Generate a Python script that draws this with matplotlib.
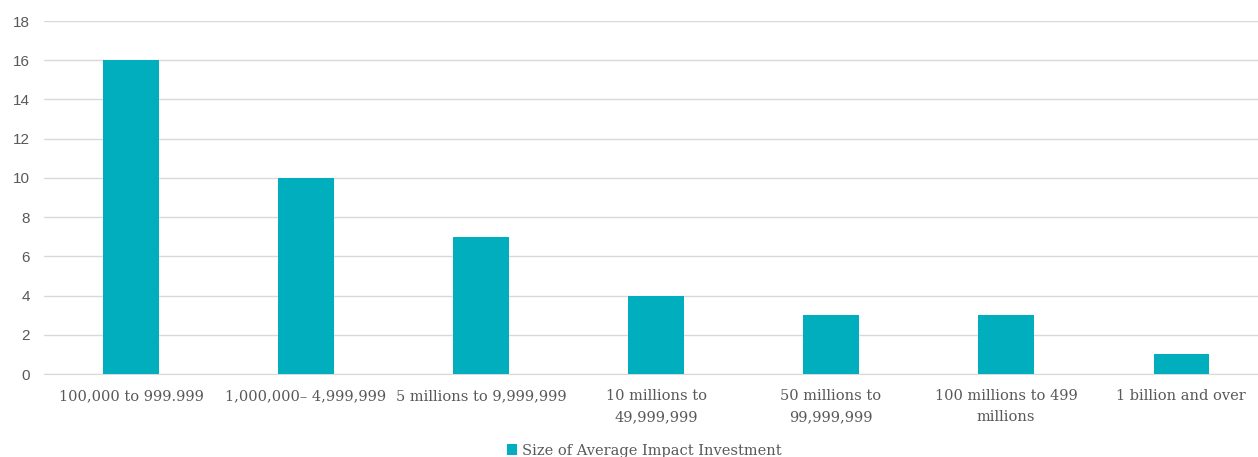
import matplotlib
matplotlib.use("Agg")
import matplotlib.pyplot as plt
from matplotlib.patches import Patch

categories = ["100,000 to 999.999", "1,000,000\u2013 4,999,999", "5 millions to 9,999,999",
              "10 millions to\n49,999,999", "50 millions to\n99,999,999",
              "100 millions to 499\nmillions", "1 billion and over"]
values = [16, 10, 7, 4, 3, 3, 1]
yticks = [0, 2, 4, 6, 8, 10, 12, 14, 16, 18]
series_name = "Size of Average Impact Investment"

bar_color = "#00AEBE"
text_color = "#595959"

fig = plt.figure(figsize=(12.58, 4.57), dpi=100)
ax = fig.add_axes([0.0346, 0.1816, 0.9738, 0.7724])
x = list(range(len(categories)))
ax.bar(x, values, width=0.315, color=bar_color, zorder=3)
ax.set_xlim(-0.5, len(categories) - 0.5)
ax.set_ylim(0, 18)
ax.set_yticks(yticks)
ax.set_yticklabels([str(v) for v in yticks], fontsize=11, color=text_color,
                   family=["Liberation Sans", "DejaVu Sans"])
ax.set_xticks(x)
ax.set_xticklabels(categories, fontsize=10.5, color=text_color,
                   family=["DejaVu Serif"], linespacing=1.6)
ax.grid(axis="y", color="#D9D9D9", linewidth=1, zorder=0)
for s in ["top", "right", "left"]:
    ax.spines[s].set_visible(False)
ax.spines["bottom"].set_color("#D9D9D9")
ax.tick_params(axis="both", length=0)
ax.tick_params(axis="x", pad=11)
ax.tick_params(axis="y", pad=10)

handle = Patch(facecolor=bar_color, edgecolor="none")
fig.legend([handle], [series_name], loc="center", bbox_to_anchor=(0.512, 0.014),
           frameon=False, prop={"family": ["DejaVu Serif"], "size": 10.5},
           labelcolor=text_color, handlelength=0.7, handleheight=0.7, handletextpad=0.3)

fig.savefig("out.png", dpi=100)
